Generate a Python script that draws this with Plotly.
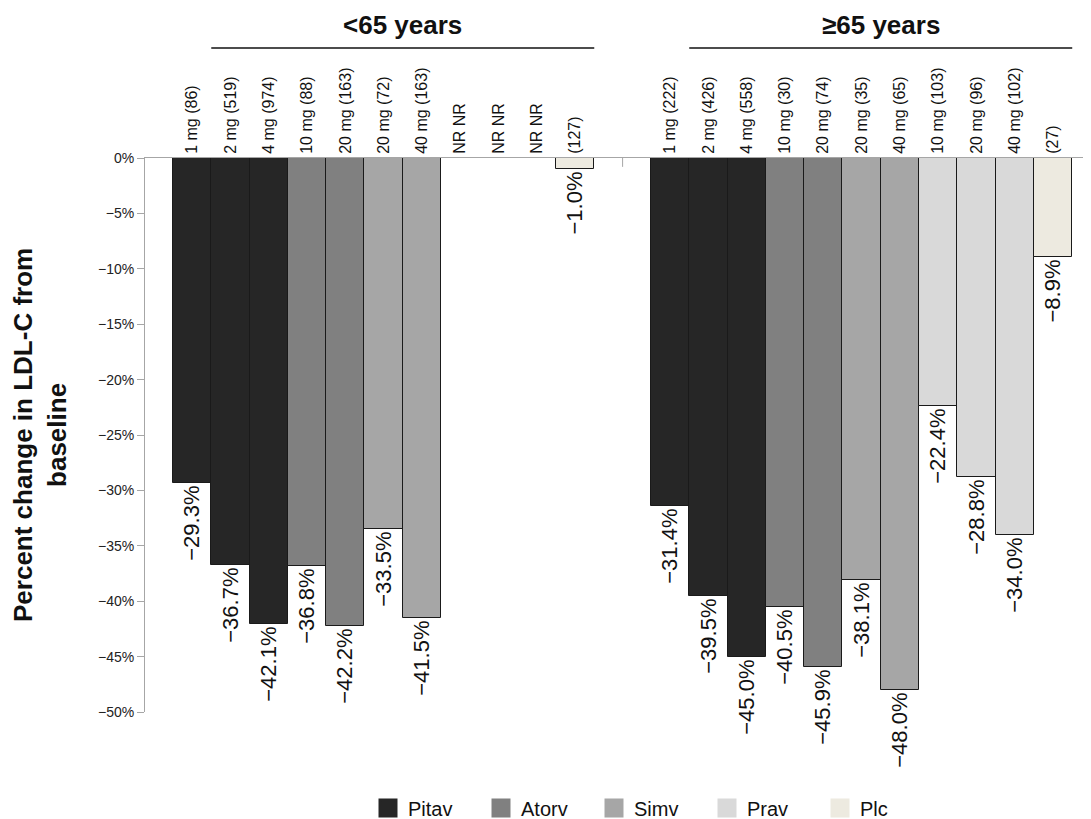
import plotly.graph_objects as go

# ---------------- data ----------------
drugs = ["Pitav", "Atorv", "Simv", "Prav", "Plc"]
drug_colors = ["#262626", "#808080", "#a6a6a6", "#d9d9d9", "#edeae0"]

young_labels = ["1 mg (86)", "2 mg (519)", "4 mg (974)", "10 mg (88)", "20 mg (163)",
                "20 mg (72)", "40 mg (163)", "NR NR", "NR NR", "NR NR", "(127)"]
young_drugs = ["Pitav", "Pitav", "Pitav", "Atorv", "Atorv", "Simv", "Simv",
               "Prav", "Prav", "Prav", "Plc"]
young_values = [-29.3, -36.7, -42.1, -36.8, -42.2, -33.5, -41.5, None, None, None, -1.0]

old_labels = ["1 mg (222)", "2 mg (426)", "4 mg (558)", "10 mg (30)", "20 mg (74)",
              "20 mg (35)", "40 mg (65)", "10 mg (103)", "20 mg (96)", "40 mg (102)", "(27)"]
old_drugs = ["Pitav", "Pitav", "Pitav", "Atorv", "Atorv", "Simv", "Simv",
             "Prav", "Prav", "Prav", "Plc"]
old_values = [-31.4, -39.5, -45.0, -40.5, -45.9, -38.1, -48.0, -22.4, -28.8, -34.0, -8.9]

y_ticks = [0, -5, -10, -15, -20, -25, -30, -35, -40, -45, -50]

# ---------------- layout helpers ----------------
PANEL_GAP = 1.48          # spacing between the two age panels (in bar slots)
young_x = [i for i in range(len(young_labels))]
old_x = [len(young_labels) + PANEL_GAP + i for i in range(len(old_labels))]

FONT = "Liberation Sans, Arial, sans-serif"

# figure geometry (page has an 8px body offset)
ML, MT, MR = 137, 150, 8
W, H = 1091, 819
PLOT_W = W - ML - MR
PLOT_H = 554
MB = H - MT - PLOT_H


def fmt(v):
    return ("\u2212" if v < 0 else "") + f"{abs(v):.1f}%"


fig = go.Figure()

for d, c in zip(drugs, drug_colors):
    xs, ys, ts = [], [], []
    for xpos, dd, v in list(zip(young_x, young_drugs, young_values)) + list(zip(old_x, old_drugs, old_values)):
        if dd == d and v is not None:
            xs.append(xpos)
            ys.append(v)
            ts.append(fmt(v))
    fig.add_trace(go.Bar(
        x=xs, y=ys, text=ts, width=1,
        marker=dict(color=c, line=dict(color="#1a1a1a", width=1)),
        textposition="outside", textangle=-90, constraintext="none",
        textfont=dict(size=22, color="#111", family=FONT),
        cliponaxis=False, showlegend=False, name=d, hoverinfo="skip",
    ))

# legend entries (large square swatches)
for d, c in zip(drugs, drug_colors):
    fig.add_trace(go.Scatter(
        x=[None], y=[None], mode="markers", name=d,
        marker=dict(symbol="square", size=16, color=c, line=dict(color=c, width=3)),
    ))

tick_vals = young_x + old_x
tick_text = young_labels + old_labels

sep_x = (young_x[-1] + old_x[0]) / 2

fig.update_layout(
    width=W, height=H,
    margin=dict(l=ML, r=MR, t=MT, b=MB, autoexpand=False),
    paper_bgcolor="white", plot_bgcolor="white",
    font=dict(family=FONT, color="#111"),
    barmode="overlay", bargap=0,
    xaxis=dict(
        range=[-1.23, 23.47], side="top", automargin=False,
        tickmode="array", tickvals=tick_vals, ticktext=tick_text,
        tickangle=-90, tickfont=dict(size=16, color="#111"),
        showline=True, linecolor="#a6a6a6", linewidth=1,
        ticks="", showgrid=False, zeroline=False, fixedrange=True,
    ),
    yaxis=dict(
        range=[-50, 0], tickmode="array", tickvals=y_ticks, automargin=False,
        ticktext=[("\u2212" if t < 0 else "") + f"{abs(t)}%" for t in y_ticks],
        ticks="outside", ticklen=7, tickcolor="#a6a6a6",
        showline=True, linecolor="#a6a6a6", linewidth=1,
        showgrid=False, zeroline=False,
        tickfont=dict(size=14, color="#222"),
    ),
    legend=dict(
        orientation="h", xref="container", yref="container",
        x=360 / W, xanchor="left",
        y=(H - 800) / H, yanchor="middle",
        entrywidth=68, entrywidthmode="pixels",
        font=dict(size=20, color="#111", family=FONT),
        bgcolor="rgba(0,0,0,0)",
    ),
    shapes=[
        dict(type="line", xref="x", yref="y", x0=sep_x, x1=sep_x, y0=0, y1=-0.8,
             line=dict(color="#a6a6a6", width=1)),
        dict(type="line", xref="x", yref="paper", x0=young_x[0] + 0.5, x1=young_x[-1] + 0.5,
             y0=1.1986, y1=1.1986, line=dict(color="#111", width=1.5)),
        dict(type="line", xref="x", yref="paper", x0=old_x[0] + 0.5, x1=old_x[-1] + 0.5,
             y0=1.1986, y1=1.1986, line=dict(color="#111", width=1.5)),
    ],
    annotations=[
        dict(text="<b>&lt;65 years</b>", xref="x", yref="paper",
             x=(young_x[0] + young_x[-1] + 1) / 2, y=1.24, showarrow=False,
             font=dict(size=26, color="#111"), xanchor="center", yanchor="middle"),
        dict(text="<b>\u226565 years</b>", xref="x", yref="paper",
             x=(old_x[0] + old_x[-1] + 1) / 2, y=1.24, showarrow=False,
             font=dict(size=26, color="#111"), xanchor="center", yanchor="middle"),
        dict(text="<b>Percent change in LDL-C from<br>baseline</b>", xref="paper", yref="paper",
             x=(32 - ML) / PLOT_W, y=0.5, textangle=-90, showarrow=False,
             font=dict(size=26, color="#111"), xanchor="center", yanchor="middle"),
    ],
)

fig.write_html("out.html")
